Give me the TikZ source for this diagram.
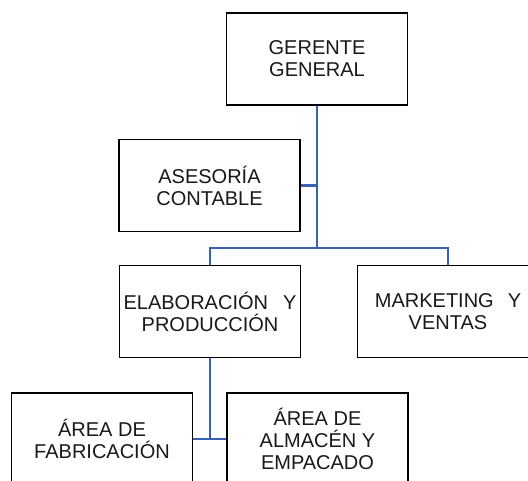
\documentclass[tikz,border=0pt]{standalone}
\usepackage{fontspec}
\setmainfont{Liberation Sans}
\definecolor{linkblue}{RGB}{58,98,176}
\definecolor{txt}{RGB}{25,25,25}
\begin{document}
\begin{tikzpicture}[x=1pt,y=-1pt,
  box/.style={draw=black,line width=1.7pt,fill=white,minimum width=181pt,minimum height=92pt,
    inner sep=0pt,align=center,text=txt,font=\fontsize{20}{22}\selectfont},
  link/.style={draw=linkblue,line width=2.3pt}]
\useasboundingbox (0,0) rectangle (528,481);
\clip (0,0) rectangle (528,481);
\node[box] (gg) at (317,59) {GERENTE\\GENERAL};
\node[box] (as) at (209.5,185.5) {ASESORÍA\\CONTABLE};
\node[box] (el) at (210,311.5) {ELABORACIÓN\hspace{0.75em}Y\\PRODUCCIÓN};
\node[box] (mk) at (448,311.5) {MARKETING\hspace{0.7em}Y\\VENTAS};
\node[box] (fab) at (102,439) {ÁREA DE\\FABRICACIÓN};
\node[box] (alm) at (317.5,439) {ÁREA DE\\ALMACÉN Y\\EMPACADO};
\coordinate (j1) at (317,248);
\draw[link] (gg.south) -- (j1);
\draw[link] (as.east) -- (as.east -| gg.south);
\draw[link] (el.north) |- (j1) -| (mk.north);
\draw[link] (el.south) -- (el.south |- fab.east);
\draw[link] (fab.east) -- (alm.west);
\end{tikzpicture}
\end{document}
